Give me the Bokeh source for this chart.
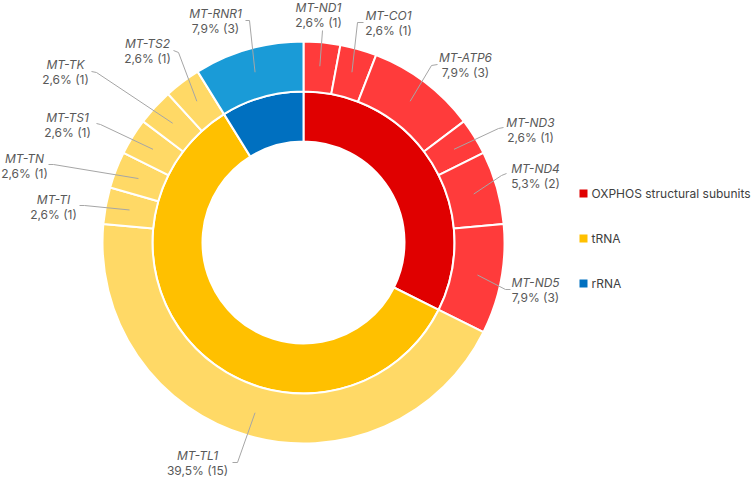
import math
from bokeh.plotting import figure
from bokeh.models import Range1d, ColumnDataSource
from bokeh.core.properties import value
from bokeh.embed import file_html
from bokeh.resources import INLINE

# ---------------- data ----------------
groups = ["OXPHOS structural subunits", "tRNA", "rRNA"]
group_counts = [11, 20, 3]
group_colors = ["#E00000", "#FFC000", "#0070C0"]

genes = ["MT-ND1", "MT-CO1", "MT-ATP6", "MT-ND3", "MT-ND4", "MT-ND5",
         "MT-TL1", "MT-TI", "MT-TN", "MT-TS1", "MT-TK", "MT-TS2", "MT-RNR1"]
gene_counts = [1, 1, 3, 1, 2, 3, 15, 1, 1, 1, 1, 1, 3]
gene_group = [0, 0, 0, 0, 0, 0, 1, 1, 1, 1, 1, 1, 2]
gene_colors_by_group = ["#FF3B3B", "#FFD966", "#1A9BD7"]
study_total = 38  # percentages are relative to 38 variants

# ---------------- layout (reference pixel coords) ----------------
W, H = 754, 477
CX, CY = 303, 242
R_HOLE, R_MID, R_OUT, R_LEAD = 101, 151, 201, 177
# name-line centre of each label
label_pos = [(318, 7), (388, 15), (465, 57), (530, 122), (535, 168), (535, 282),
             (197, 455), (53, 199), (24, 158), (67, 117), (65, 64), (147, 43), (215, 13)]
# leader path after the slice anchor
leader_path = [[(322, 30)], [(357, 22), (363, 22)], [(431, 65), (437, 64)],
               [(498, 128), (503, 127)], [(501, 175), (506, 173)], [(505, 289), (510, 289)],
               [(237, 462), (232, 462)], [(84, 205), (79, 205)], [(53, 164), (48, 164)],
               [(100, 124), (96, 123)], [(96, 72), (91, 71)], [(178, 52), (173, 50)],
               [(249, 20), (245, 20)]]
legend_y = [193, 238, 283]


def X(px):
    return px


def Y(py):
    return H - py


p = figure(width=W, height=H, output_backend="svg", toolbar_location=None,
           x_range=Range1d(0, W), y_range=Range1d(0, H),
           min_border=0, tools="")
p.axis.visible = False
p.grid.visible = False
p.outline_line_color = None
p.background_fill_color = "white"


def wedges(counts, colors, r_in, r_out):
    total = sum(counts)
    starts, ends, mids = [], [], []
    acc = 0
    for c in counts:
        t1 = acc / total * 360
        acc += c
        t2 = acc / total * 360
        starts.append(math.radians(90 - t2))
        ends.append(math.radians(90 - t1))
        mids.append((t1 + t2) / 2)
    src = ColumnDataSource(dict(x=[X(CX)] * len(counts), y=[Y(CY)] * len(counts),
                                s=starts, e=ends, c=colors))
    p.annular_wedge(x="x", y="y", inner_radius=r_in, outer_radius=r_out,
                    start_angle="s", end_angle="e", direction="anticlock",
                    fill_color="c", line_color="white", line_width=2, source=src)
    return mids


wedges(group_counts, group_colors, R_HOLE, R_MID)
mids = wedges(gene_counts, [gene_colors_by_group[g] for g in gene_group], R_MID, R_OUT)

# leader lines
xs, ys = [], []
for m, path in zip(mids, leader_path):
    sx = CX + R_LEAD * math.sin(math.radians(m))
    sy = CY - R_LEAD * math.cos(math.radians(m))
    pts = [(sx, sy)] + path
    xs.append([X(a) for a, b in pts])
    ys.append([Y(b) for a, b in pts])
p.multi_line(xs=xs, ys=ys, line_color="#A6A6A6", line_width=1)

# labels
names_src = ColumnDataSource(dict(x=[X(a) for a, b in label_pos], y=[Y(b) for a, b in label_pos],
                                  t=genes))
p.text(x="x", y="y", text="t", source=names_src, text_align="center", text_baseline="middle",
       text_font=value("Inter"), text_font_size="12px", text_font_style="italic",
       text_color="#595959")
pct_txt = [f"{c / study_total * 100:.1f}%".replace(".", ",") + f" ({c})" for c in gene_counts]
pct_src = ColumnDataSource(dict(x=[X(a) for a, b in label_pos], y=[Y(b + 15) for a, b in label_pos],
                                t=pct_txt))
p.text(x="x", y="y", text="t", source=pct_src, text_align="center", text_baseline="middle",
       text_font=value("Inter"), text_font_size="12px", text_color="#595959")

# legend
p.scatter(x=[X(583)] * 3, y=[Y(v) for v in legend_y], marker="square", size=8,
          fill_color=group_colors, line_color=None)
p.text(x=[X(591)] * 3, y=[Y(v) for v in legend_y], text=groups, text_align="left",
       text_baseline="middle", text_font=value("Inter"), text_font_size="12px",
       text_color="#404040")

open("out.html", "w").write(file_html(p, INLINE))
